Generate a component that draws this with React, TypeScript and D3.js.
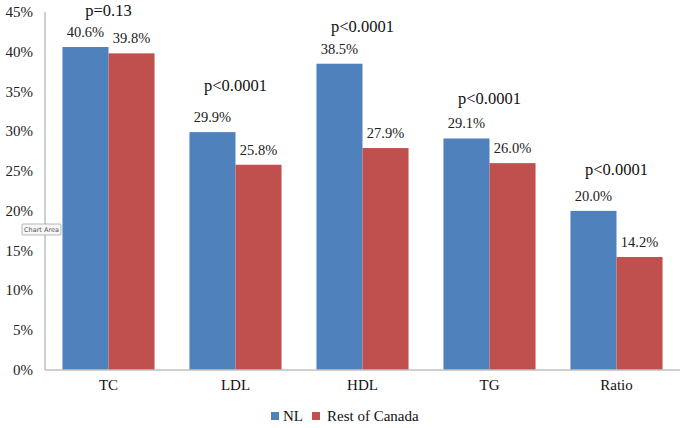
import * as d3 from "d3";

const categories = ["TC", "LDL", "HDL", "TG", "Ratio"];
const nlValues = [40.6, 29.9, 38.5, 29.1, 20.0];
const restValues = [39.8, 25.8, 27.9, 26.0, 14.2];
const pLabels = ["p=0.13", "p<0.0001", "p<0.0001", "p<0.0001", "p<0.0001"];
const seriesNames = ["NL", "Rest of Canada"];
const yTicks = [0, 5, 10, 15, 20, 25, 30, 35, 40, 45];

/** svg dimensions */
const width = 686;
const height = 428;
const margin = { left: 45, right: 6, top: 12, bottom: 58 };
const colors = ["#4F81BD", "#C0504D"];
const serif = { fontFamily: "'Liberation Serif'" };
// gap between the taller bar and its p-value label, per category
const pGap = [31, 41, 32, 34, 36];

const App = () => {
  const x0 = d3
    .scaleBand()
    .domain(categories)
    .range([margin.left, width - margin.right])
    .paddingInner(0.275)
    .paddingOuter(0.1375);
  const x1 = d3.scaleBand().domain(seriesNames).range([0, x0.bandwidth()]);
  const y = d3
    .scaleLinear()
    .domain([0, 45])
    .range([height - margin.bottom, margin.top]);

  const series = [nlValues, restValues];

  return (
    <svg
      width={width}
      height={height}
      viewBox={[0, 0, width, height].join(" ")}
      style={{ position: "absolute", left: 0, top: 0, background: "#fff" }}
    >
      {/* y tick labels */}
      {yTicks.map((t) => (
        <text
          key={t}
          x={margin.left - 12}
          y={y(t)}
          textAnchor="end"
          dominantBaseline="central"
          fontSize={15}
          fill="#222"
          style={serif}
        >
          {t}%
        </text>
      ))}
      {/* bars */}
      {series.map((vals, si) =>
        vals.map((v, i) => (
          <rect
            key={`${si}-${i}`}
            x={(x0(categories[i]) ?? 0) + (x1(seriesNames[si]) ?? 0)}
            y={y(v)}
            width={x1.bandwidth()}
            height={y(0) - y(v)}
            fill={colors[si]}
          />
        ))
      )}
      {/* value labels */}
      {series.map((vals, si) =>
        vals.map((v, i) => (
          <text
            key={`l${si}-${i}`}
            x={(x0(categories[i]) ?? 0) + (x1(seriesNames[si]) ?? 0) + x1.bandwidth() / 2}
            y={y(v) - 10}
            textAnchor="middle"
            fontSize={14.5}
            fill="#222"
            style={serif}
          >
            {v.toFixed(1)}%
          </text>
        ))
      )}
      {/* p-values */}
      {categories.map((c, i) => (
        <text
          key={`p${c}`}
          x={(x0(c) ?? 0) + x0.bandwidth() / 2}
          y={y(Math.max(nlValues[i], restValues[i])) - pGap[i]}
          textAnchor="middle"
          fontSize={16.5}
          fill="#111"
          style={serif}
        >
          {pLabels[i]}
        </text>
      ))}
      {/* axes */}
      <line
        x1={margin.left}
        x2={margin.left}
        y1={y(45)}
        y2={y(0)}
        stroke="#c0c0c0"
        strokeWidth={1.5}
      />
      <line
        x1={margin.left}
        x2={width - margin.right}
        y1={y(0)}
        y2={y(0)}
        stroke="#c0c0c0"
        strokeWidth={1.5}
      />
      {/* category labels */}
      {categories.map((c) => (
        <text
          key={`c${c}`}
          x={(x0(c) ?? 0) + x0.bandwidth() / 2}
          y={y(0) + 20}
          textAnchor="middle"
          fontSize={15}
          fill="#111"
          style={serif}
        >
          {c}
        </text>
      ))}
      {/* legend */}
      <g transform="translate(271, 412)">
        <rect x={0} y={0} width={8} height={8} fill={colors[0]} />
        <text x={12} y={9} fontSize={15} fill="#111" style={serif}>
          {seriesNames[0]}
        </text>
        <rect x={41} y={0} width={8} height={8} fill={colors[1]} />
        <text x={56} y={9} fontSize={15} fill="#111" style={serif}>
          {seriesNames[1]}
        </text>
      </g>
      {/* "Chart Area" tooltip from the original screenshot */}
      <g transform="translate(22, 224)">
        <rect
          x={0}
          y={0}
          width={39}
          height={11}
          fill="#f7f7f7"
          stroke="#8a8a8a"
          strokeWidth={0.6}
          rx={1}
        />
        <text
          x={19.5}
          y={8}
          textAnchor="middle"
          fontSize={6.5}
          fill="#555"
          style={{ fontFamily: "'DejaVu Sans'" }}
        >
          Chart Area
        </text>
      </g>
    </svg>
  );
};

export default App;
